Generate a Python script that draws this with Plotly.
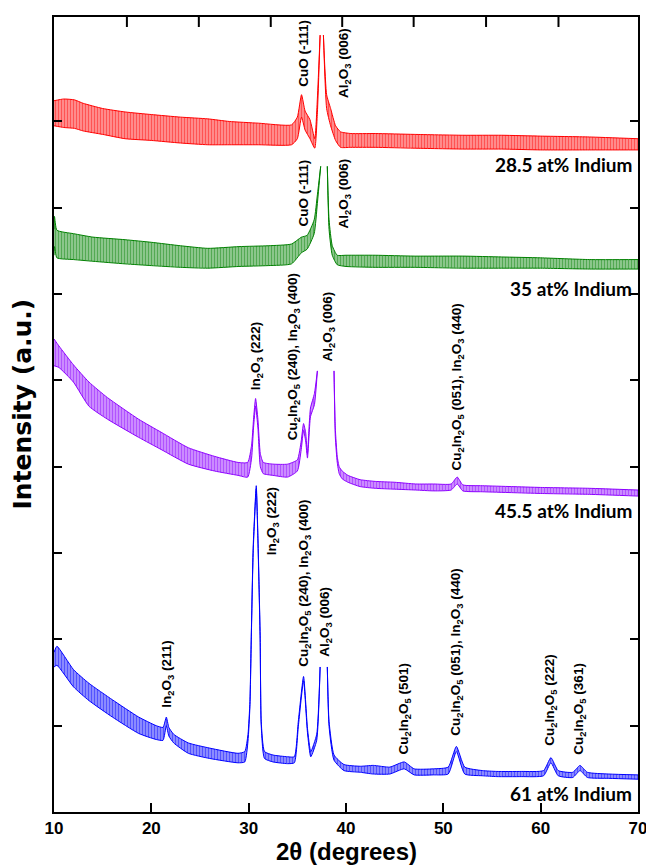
import plotly.graph_objects as go

# ---------------- data ----------------
two_theta_ticks = [10, 20, 30, 40, 50, 60, 70]
top_tick_positions = [17.49, 24.88, 32.27, 39.61, 46.95, 54.39, 61.83]
intensity_ticks = [1, 2, 3, 4, 5, 6, 7, 8]

sample_names = ["28.5 at% Indium", "35 at% Indium", "45.5 at% Indium", "61 at% Indium"]
sample_label_y = [7.50, 6.07, 3.49, 0.22]

# each pattern: 2theta knots with the upper / lower edge of the noisy trace
red_x = [10.0, 11.0, 12.1, 13.0, 15.0, 17.3, 20.0, 23.0, 25.8, 28.0,
         31.0, 34.4, 35.0, 35.43, 35.8, 36.3, 36.79, 37.06, 37.34, None,
         37.68, 38.01, 38.42, 38.93, 39.44, 40.5, 43.0, 47.0, 52.0, 56.0,
         60.0, 65.0, 70.0]
red_upper = [8.24, 8.26, 8.25, 8.21, 8.15, 8.11, 8.08, 8.05, 8.03, 8.00,
             7.98, 7.96, 8.05, 8.31, 8.12, 8.02, 7.80, 8.27, 9.0, None,
             9.0, 8.31, 8.15, 7.95, 7.88, 7.86, 7.86, 7.85, 7.84, 7.84,
             7.83, 7.82, 7.80]
red_lower = [7.95, 7.93, 7.92, 7.89, 7.85, 7.80, 7.78, 7.75, 7.73, 7.73,
             7.73, 7.73, 7.80, 8.05, 7.90, 7.80, 7.69, 8.10, 9.0, None,
             9.0, 8.15, 7.95, 7.78, 7.70, 7.70, 7.70, 7.69, 7.68, 7.68,
             7.67, 7.67, 7.67]

green_x = [10.0, 10.05, 10.3, 12.0, 14.0, 17.3, 20.0, 23.0, 25.8, 29.0,
           32.0, 34.4, 35.43, 36.0, 36.73, 37.06, 37.40, None,
           38.08, 38.26, 38.59, 39.1, 40.0, 43.0, 47.0, 52.0, 56.0, 60.0,
           65.0, 70.0]
green_upper = [6.75, 6.90, 6.74, 6.70, 6.66, 6.63, 6.60, 6.56, 6.53, 6.55,
               6.56, 6.58, 6.66, 6.68, 6.86, 7.15, 7.48, None,
               7.48, 6.86, 6.56, 6.45, 6.45, 6.45, 6.44, 6.44, 6.43, 6.42,
               6.40, 6.40]
green_lower = [6.45, 6.55, 6.42, 6.40, 6.38, 6.35, 6.33, 6.31, 6.30, 6.32,
               6.33, 6.35, 6.48, 6.52, 6.70, 7.05, 7.48, None,
               7.48, 6.75, 6.45, 6.34, 6.32, 6.31, 6.31, 6.30, 6.30, 6.30,
               6.29, 6.29]

purple_x = [10.0, 10.5, 12.0, 13.6, 15.5, 18.7, 21.0, 23.8, 26.5, 28.9,
            29.9, 30.3, 30.5, 30.71, 30.95, 31.2, 31.5, 32.5, 34.0, 35.0,
            35.4, 35.64, 35.85, 36.04, 36.2, 36.35, 36.76, 37.06, None, 38.77,
            38.9, 39.1, 39.3, 39.61, 40.2, 41.45, 43.0, 45.0, 47.15, 49.0,
            50.8, 51.43, 52.0, 54.0, 57.0, 60.0, 65.0, 70.0]
purple_upper = [5.48, 5.40, 5.18, 4.98, 4.80, 4.55, 4.40, 4.22, 4.12, 4.05,
                4.05, 4.25, 4.55, 4.79, 4.55, 4.15, 4.05, 4.03, 4.03, 4.08,
                4.30, 4.50, 4.40, 4.15, 4.45, 4.68, 4.85, 5.11, None, 5.11,
                4.45, 4.12, 4.00, 3.95, 3.90, 3.85, 3.83, 3.82, 3.80, 3.80,
                3.80, 3.88, 3.79, 3.78, 3.77, 3.76, 3.75, 3.73]
purple_lower = [5.17, 5.15, 4.98, 4.70, 4.55, 4.34, 4.20, 4.03, 3.95, 3.90,
                3.88, 4.10, 4.45, 4.70, 4.45, 4.00, 3.92, 3.90, 3.88, 3.95,
                4.20, 4.42, 4.30, 4.10, 4.35, 4.58, 4.72, 5.11, None, 5.11,
                4.35, 4.05, 3.92, 3.86, 3.82, 3.77, 3.75, 3.74, 3.73, 3.72,
                3.73, 3.80, 3.72, 3.71, 3.70, 3.69, 3.68, 3.66]

blue_x = [10.0, 10.3, 12.0, 13.6, 16.0, 18.7, 20.5, 21.2, 21.54, 21.8,
          22.3, 23.8, 26.0, 28.9, 29.6, 29.93, 30.13, 30.27, 30.47, 30.78,
          30.95, 31.18, 31.29, 31.63, 32.5, 34.0, 34.69, 35.1, 35.64, 36.04,
          36.38, 36.99, 37.34, None, 38.08, 38.26, 38.77, 39.79, 41.48, 42.8,
          44.5, 45.98, 47.0, 49.0, 50.5, 51.34, 52.2, 54.0, 55.5, 58.0,
          60.3, 61.05, 61.8, 63.3, 64.04, 64.8, 67.0, 70.0]
blue_upper = [1.85, 1.92, 1.65, 1.49, 1.30, 1.10, 1.00, 0.98, 1.10, 0.98,
              0.90, 0.80, 0.74, 0.68, 0.70, 0.90, 1.28, 2.05, 3.09, 3.78,
              3.20, 2.05, 1.05, 0.70, 0.66, 0.64, 0.64, 1.05, 1.57, 0.97,
              0.70, 0.90, 1.68, None, 1.68, 1.05, 0.66, 0.55, 0.53, 0.54,
              0.52, 0.58, 0.50, 0.50, 0.52, 0.76, 0.52, 0.48, 0.47, 0.47,
              0.48, 0.63, 0.48, 0.46, 0.54, 0.46, 0.44, 0.43]
blue_lower = [1.68, 1.70, 1.45, 1.29, 1.10, 0.91, 0.84, 0.83, 1.00, 0.88,
              0.80, 0.68, 0.62, 0.57, 0.58, 0.82, 1.22, 2.00, 3.03, 3.74,
              3.14, 2.00, 1.00, 0.62, 0.58, 0.56, 0.57, 0.99, 1.52, 0.92,
              0.64, 0.83, 1.68, None, 1.68, 0.99, 0.60, 0.48, 0.46, 0.44,
              0.44, 0.50, 0.43, 0.43, 0.44, 0.70, 0.44, 0.42, 0.41, 0.41,
              0.42, 0.57, 0.42, 0.40, 0.48, 0.40, 0.39, 0.38]

# peak labels: text, 2theta, intensity at the label's lower end
AL = "Al<sub>2</sub>O<sub>3</sub> (006)"
CIO = "Cu<sub>2</sub>In<sub>2</sub>O<sub>5</sub>"
IO = "In<sub>2</sub>O<sub>3</sub>"
peak_labels = [
    ("CuO (-111)", 35.64, 8.38), (AL, 39.92, 8.25),
    ("CuO (-111)", 35.64, 6.76), (AL, 39.82, 6.74),
    (IO + " (222)", 30.82, 4.86),
    (CIO + " (240), " + IO + " (400)", 34.58, 4.28),
    (AL, 38.19, 5.20),
    (CIO + " (051), " + IO + " (440)", 51.43, 3.93),
    (IO + " (211)", 21.67, 1.18),
    (IO + " (222)", 32.48, 2.95),
    (CIO + " (240), " + IO + " (400)", 35.74, 1.66),
    (AL, 37.88, 1.78),
    (CIO + " (501)", 46.04, 0.64),
    (CIO + " (051), " + IO + " (440)", 51.34, 0.86),
    (CIO + " (222)", 61.02, 0.74),
    (CIO + " (361)", 64.03, 0.64),
]

# ---------------- figure ----------------
patterns = [
    (red_x, red_upper, red_lower, (255, 0, 0)),
    (green_x, green_upper, green_lower, (0, 128, 0)),
    (purple_x, purple_upper, purple_lower, (140, 0, 255)),
    (blue_x, blue_upper, blue_lower, (0, 0, 255)),
]


def split_segments(xs, hi, lo):
    segs, cur = [], ([], [], [])
    for a, b, c in zip(xs, hi, lo):
        if a is None:
            if cur[0]:
                segs.append(cur)
            cur = ([], [], [])
        else:
            cur[0].append(a)
            cur[1].append(b)
            cur[2].append(c)
    if cur[0]:
        segs.append(cur)
    return segs


fig = go.Figure()
for xs, hi, lo, (r, g, b) in patterns:
    col = f"rgb({r},{g},{b})"
    light = f"rgba({r},{g},{b},0.35)"
    for sx, shi, slo in split_segments(xs, hi, lo):
        fig.add_trace(go.Scatter(x=sx, y=slo, mode="lines",
                                 line=dict(color=col, width=1, shape="spline",
                                           smoothing=0.5),
                                 showlegend=False, hoverinfo="skip"))
        fig.add_trace(go.Scatter(x=sx, y=shi, mode="lines",
                                 line=dict(color=col, width=1, shape="spline",
                                           smoothing=0.5),
                                 fill="tonexty", fillcolor=light,
                                 fillpattern=dict(shape="|", size=3, solidity=0.55,
                                                  fgcolor=col, bgcolor=light,
                                                  fillmode="overlay"),
                                 showlegend=False, hoverinfo="skip"))

annotations = []
for txt, x, y in peak_labels:
    annotations.append(dict(x=x, y=y, text=txt, textangle=-90, showarrow=False,
                            xanchor="center", yanchor="bottom",
                            font=dict(family="Liberation Sans", size=13.5, color="black",
                                      weight="bold")))
for name, y in zip(sample_names, sample_label_y):
    annotations.append(dict(x=69.6, y=y, text=name, showarrow=False,
                            xanchor="right", yanchor="middle",
                            font=dict(family="Lato", size=19, color="black",
                                      weight="bold")))
# axis titles
annotations.append(dict(xref="paper", yref="paper", x=0.5, y=-0.0502,
                        text="2θ (degrees)", showarrow=False,
                        xanchor="center", yanchor="middle",
                        font=dict(family="Liberation Sans", size=24, color="black",
                                  weight="bold")))
annotations.append(dict(xref="paper", yref="paper", x=-0.0543, y=0.513,
                        text="Intensity (a.u.)", showarrow=False, textangle=-90,
                        xanchor="center", yanchor="middle",
                        font=dict(family="DejaVu Sans", size=25, color="black",
                                  weight="bold")))

# top-frame tick marks (inward), placed at the positions listed above
top_tick_shapes = [dict(type="line", xref="x", yref="paper", x0=t, x1=t,
                        y0=1.0, y1=1.0 - 10 / 797, layer="above",
                        line=dict(color="black", width=2))
                   for t in top_tick_positions]

# the page body adds an 8 px margin, so the figure is 8 px smaller on each side
fig.update_layout(
    width=646, height=858,
    margin=dict(l=46, r=11, t=7, b=54),
    paper_bgcolor="white", plot_bgcolor="white",
    annotations=annotations,
    shapes=top_tick_shapes,
    xaxis=dict(range=[10, 70], tickvals=two_theta_ticks,
               ticktext=[str(v) for v in two_theta_ticks],
               ticks="inside", ticklen=9, tickwidth=2, tickcolor="black",
               showline=True, linewidth=2, linecolor="black", mirror=True,
               showgrid=False, zeroline=False,
               tickfont=dict(family="Liberation Sans", size=17, color="black",
                             weight="bold")),
    yaxis=dict(range=[0, 9.21], tickvals=intensity_ticks, showticklabels=False,
               ticks="inside", ticklen=8, tickwidth=2, tickcolor="black",
               showline=True, linewidth=2, linecolor="black", mirror="ticks",
               showgrid=False, zeroline=False),
)

fig.write_html("out.html")
